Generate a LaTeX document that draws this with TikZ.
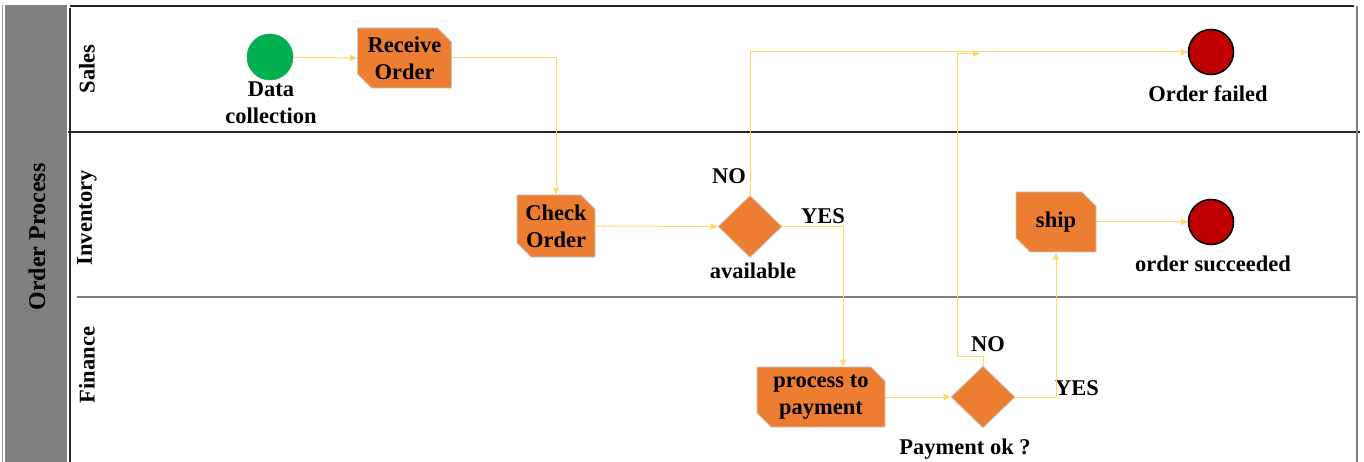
\documentclass[tikz,border=0pt]{standalone}
\usepackage{fontspec}
\setmainfont{Liberation Serif}
\usetikzlibrary{shapes.geometric,shapes.misc,arrows.meta}
\definecolor{taskfill}{HTML}{ED7D31}
\definecolor{taskedge}{HTML}{C8C8C8}
\definecolor{flow}{HTML}{FFD966}
\definecolor{startgreen}{HTML}{00B050}
\definecolor{endred}{HTML}{C00000}
\definecolor{poolgray}{HTML}{808080}
\definecolor{lanegray}{HTML}{7F7F7F}
\begin{document}
\begin{tikzpicture}[x=1pt,y=-1pt,
  txt/.style={font=\fontsize{22.5}{27}\selectfont\bfseries, align=center, inner sep=0pt},
  task/.style={chamfered rectangle, chamfered rectangle corners={north east,south west},
    chamfered rectangle xsep=7pt, chamfered rectangle ysep=7pt,
    fill=taskfill, draw=taskedge, line width=0.8pt, inner sep=0pt, txt},
  gate/.style={diamond, fill=taskfill, draw=taskedge, line width=0.8pt, inner sep=0pt,
    minimum width=64pt, minimum height=62pt},
  startev/.style={circle, fill=startgreen, draw=startgreen!80!gray, line width=0.6pt,
    minimum size=46pt, inner sep=0pt},
  endev/.style={circle, fill=endred, draw=black, line width=1.6pt,
    minimum size=45pt, inner sep=0pt},
  flowline/.style={draw=flow, line width=1pt, -{Triangle[length=7pt,width=6pt]}},
  frame/.style={draw=black!85, line width=1.2pt},
]
\useasboundingbox (0,0) rectangle (1364,462);

% pool band and lane frame
\fill[poolgray] (5,5) rectangle (67,462);
\draw[black!40, line width=0.6pt] (2,5) -- (2,462);
\node[txt, font=\fontsize{24}{28}\selectfont\bfseries, rotate=90] (pool) at (37,237) {Order Process};
\draw[frame] (70,8) -- (70,462);
\draw[frame] (70,6) -- (1354,6);
\draw[frame] (68,132) -- (1360,132);
\draw[draw=lanegray, line width=1.2pt] (77,297) -- (1356,297);
\draw[draw=lanegray, line width=1.2pt] (1357,6) -- (1357,462);
\node[txt, rotate=90] (lsales) at (87,69) {Sales};
\node[txt, rotate=90] (linv) at (87,218) {Inventory};
\node[txt, rotate=90] (lfin) at (87,365) {Finance};

% events
\node[startev] (start) at (270,57) {};
\node[txt] (startlbl) at (271,103) {Data\\collection};
\node[endev] (failed) at (1211,52) {};
\node[txt] (failedlbl) at (1208,94) {Order failed};
\node[endev] (done) at (1211,222) {};
\node[txt] (donelbl) at (1213,264) {order succeeded};

% tasks
\node[task, minimum width=94pt, minimum height=60pt] (recv) at (404.5,58) {Receive\\Order};
\node[task, minimum width=78pt, minimum height=62pt] (check) at (556,226) {Check\\Order};
\node[task, minimum width=128pt, minimum height=60pt] (pay) at (821,397) {process to\\payment};
\node[task, minimum width=80pt, minimum height=60pt] (ship) at (1056,222) {ship};

% gateways
\node[gate] (avail) at (750,226.5) {};
\node[txt] (availlbl) at (753,271) {available};
\node[txt] (availno) at (729,176) {NO};
\node[txt] (availyes) at (823,216) {YES};
\node[gate] (payok) at (983,397) {};
\node[txt] (payoklbl) at (965,449) {Payment ok ?};
\node[txt] (payno) at (988,344) {NO};
\node[txt] (payyes) at (1077,388) {YES};

% sequence flows
\coordinate (nomerge) at (980,53.5);
\draw[flowline] (start) -- (recv.west);
\draw[flowline] (recv.east) -| (check.north);
\draw[flowline] (check.east) -- (avail.west);
\draw[flowline] (avail.north) |- (failed.west);
\draw[flowline] (avail.east) -| ([xshift=22pt]pay.north);
\draw[flowline] (pay.east) -- (payok.west);
\draw[flowline] (payok.north) -- ++(0,-9) -| ([xshift=-23pt]nomerge) -- (nomerge);
\draw[flowline] (payok.east) -| (ship.south);
\draw[flowline] (ship.east) -- (done.west);
\end{tikzpicture}
\end{document}
